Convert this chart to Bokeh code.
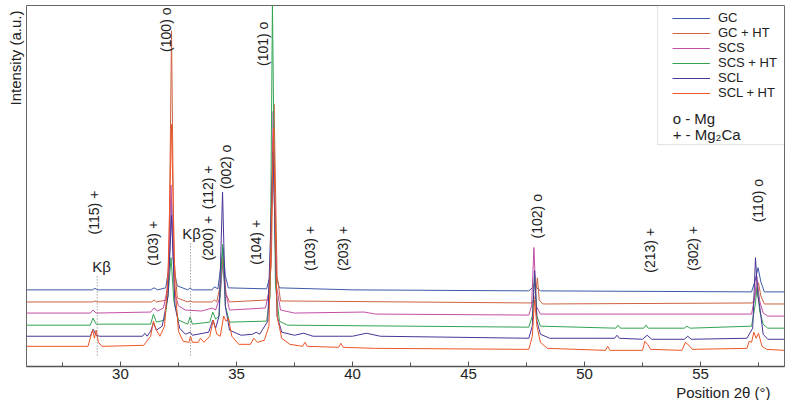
from math import pi
from bokeh.plotting import figure
from bokeh.models import (Range1d, SingleIntervalTicker, Title, Legend, LegendItem,
                          BoxAnnotation, Label)
from bokeh.core.properties import value
from bokeh.embed import file_html
from bokeh.resources import INLINE

FONT = "Liberation Sans"

series_names = ["GC", "GC + HT", "SCS", "SCS + HT", "SCL", "SCL + HT"]
series_colors = ["#3d5aa8", "#cf6240", "#c24fa6", "#33a352", "#4a3597", "#ef5526"]

# (2theta, intensity a.u.), traces already offset
pattern_gc = [(25.95, 76), (28.8, 76), (28.9, 77.5), (29.0, 76), (31.3, 76), (31.45, 78), (31.6, 76),
              (31.95, 78), (32.1, 100), (32.2, 165), (32.3, 95), (32.45, 80), (32.9, 76), (33.0, 78),
              (33.1, 76), (33.95, 76), (34.05, 79), (34.2, 77), (34.33, 100), (34.42, 118), (34.52, 90),
              (34.65, 78), (36.3, 77), (36.45, 90), (36.58, 223), (36.7, 90), (36.85, 78), (40.0, 76),
              (47.6, 75), (47.75, 78), (47.85, 82), (47.95, 78), (48.1, 75), (57.2, 74), (57.35, 85),
              (57.48, 98), (57.6, 84), (57.75, 74), (58.62, 74)]
pattern_gc_ht = [(25.95, 64), (28.8, 64), (28.9, 65), (29.0, 64), (31.35, 64), (31.45, 66), (31.55, 64),
                 (32.0, 66), (32.1, 120), (32.2, 333), (32.3, 110), (32.45, 68), (32.9, 64), (33.0, 65),
                 (33.1, 64), (33.95, 64), (34.05, 66), (34.15, 64), (34.3, 80), (34.42, 108), (34.55, 72),
                 (34.7, 64), (36.35, 66), (36.5, 100), (36.62, 260), (36.75, 90), (36.9, 65), (47.75, 63),
                 (47.88, 70), (47.97, 88), (48.05, 66), (48.2, 62), (57.25, 63), (57.4, 75), (57.5, 83),
                 (57.6, 70), (57.75, 62), (58.62, 62)]
pattern_scs = [(25.95, 53), (28.7, 53), (28.82, 56), (28.95, 53), (31.3, 54), (31.45, 58), (31.6, 55),
               (31.85, 58), (32.05, 80), (32.18, 180), (32.32, 75), (32.5, 60), (32.8, 56), (33.5, 55),
               (33.95, 58), (34.1, 56), (34.3, 70), (34.4, 101), (34.52, 75), (34.7, 56), (36.25, 58),
               (36.45, 80), (36.58, 253), (36.72, 80), (36.9, 56), (37.5, 53), (40.5, 54), (41.0, 52),
               (47.6, 51), (47.72, 60), (47.82, 118), (47.92, 60), (48.1, 52), (57.2, 52), (57.35, 70),
               (57.42, 90), (57.55, 65), (57.7, 53), (57.9, 50), (58.62, 50)]
pattern_scs_ht = [(25.95, 41), (28.7, 41), (28.82, 48), (28.95, 42), (31.3, 42), (31.42, 52), (31.55, 44),
                  (31.9, 46), (32.05, 70), (32.18, 108), (32.3, 65), (32.5, 46), (32.9, 42), (33.0, 49),
                  (33.1, 42), (33.85, 44), (33.98, 54), (34.1, 47), (34.25, 50), (34.4, 121), (34.52, 60),
                  (34.7, 44), (36.3, 45), (36.45, 70), (36.55, 360), (36.68, 80), (36.85, 45), (37.2, 41),
                  (47.6, 39), (47.75, 50), (47.85, 91), (47.95, 50), (48.1, 40), (51.35, 38), (51.45, 41),
                  (51.55, 38), (52.55, 38), (52.65, 41), (52.75, 38), (54.3, 38), (54.42, 40), (54.55, 38),
                  (57.2, 40), (57.35, 60), (57.45, 80), (57.55, 55), (57.7, 42), (57.9, 38), (58.62, 38)]
pattern_scl = [(25.95, 30), (28.7, 30), (28.82, 37), (28.95, 31), (29.1, 30), (30.95, 30), (31.05, 33),
               (31.15, 30), (31.3, 35), (31.42, 43), (31.55, 36), (31.8, 40), (32.05, 70), (32.2, 150),
               (32.35, 60), (32.55, 38), (32.8, 32), (33.0, 34), (33.1, 31), (33.8, 34), (33.98, 46),
               (34.1, 38), (34.25, 50), (34.4, 173), (34.52, 60), (34.7, 36), (35.2, 31), (35.7, 32),
               (35.85, 34), (36.0, 32), (36.35, 45), (36.58, 213), (36.75, 50), (36.95, 34), (37.5, 31),
               (37.9, 33), (38.3, 30), (40.0, 30), (40.6, 33), (41.2, 30), (47.6, 28), (47.75, 40),
               (47.85, 95), (47.95, 45), (48.1, 32), (48.5, 28), (51.3, 28), (51.4, 31), (51.5, 28),
               (52.5, 27), (52.7, 31), (52.9, 27), (54.3, 27), (54.45, 30), (54.6, 27), (57.0, 28),
               (57.25, 38), (57.37, 108), (57.47, 70), (57.55, 60), (57.7, 32), (57.9, 27), (58.62, 27)]
pattern_scl_ht = [(25.95, 20), (28.6, 20), (28.72, 30), (28.8, 36), (28.88, 28), (28.95, 36), (29.05, 24),
                  (29.2, 20), (31.0, 21), (31.3, 30), (31.42, 45), (31.55, 36), (31.7, 30), (31.9, 40),
                  (32.05, 90), (32.2, 240), (32.35, 80), (32.5, 35), (32.7, 25), (32.95, 24), (33.02, 30),
                  (33.1, 24), (33.35, 24), (33.45, 28), (33.6, 24), (33.85, 30), (34.0, 46), (34.15, 32),
                  (34.3, 30), (34.45, 50), (34.55, 45), (34.65, 48), (34.8, 30), (35.1, 22), (35.6, 22),
                  (35.75, 28), (35.9, 24), (36.2, 26), (36.4, 40), (36.6, 236), (36.75, 50), (36.95, 28),
                  (37.3, 22), (37.85, 20), (37.95, 24), (38.05, 20), (39.4, 19), (39.5, 23), (39.6, 19),
                  (41.0, 18), (47.6, 17), (47.75, 30), (47.85, 66), (47.95, 40), (48.1, 24), (48.4, 18),
                  (50.9, 16), (51.0, 20), (51.1, 16), (52.5, 16), (52.6, 25), (52.72, 22), (52.85, 17),
                  (54.2, 16), (54.35, 24), (54.5, 21), (54.65, 17), (57.0, 18), (57.1, 25), (57.2, 24),
                  (57.3, 34), (57.4, 28), (57.5, 33), (57.65, 20), (57.85, 17), (58.62, 16)]
patterns = [pattern_gc, pattern_gc_ht, pattern_scs, pattern_scs_ht, pattern_scl, pattern_scl_ht]

# reflection annotations: text, 2theta, intensity at text start
refl_text = ["(115)  +", "(103)  +", "(100)  o", "(200)  +", "(112)  +", "(002)  o", "(104)  +",
             "(101)  o", "(103)  +", "(203)  +", "(102)  o", "(213)  +", "(302)  +", "(110)  o"]
refl_x = [28.84, 31.42, 31.98, 33.79, 33.79, 34.57, 35.82, 36.16, 38.15, 39.57, 47.97, 52.84, 54.66, 57.46]
refl_y = [131, 100, 312, 105, 156, 176, 101, 298, 95, 95, 127, 93, 95, 143]

kb_text = ["K\u03b2", "K\u03b2"]
kb_x = [29.18, 33.06]
kb_y = [99, 132]
kb_line_x = [29.0, 33.02]
kb_line_top = [91, 123]
kb_line_bottom = [11, 11]

legend_notes = ["o - Mg", "+ - Mg\u2082Ca"]

p = figure(width=785, height=400, x_range=Range1d(25.95, 58.62), y_range=Range1d(0, 358),
           output_backend="svg", toolbar_location=None, title=None,
           min_border_left=26, min_border_right=1, min_border_top=5, min_border_bottom=0)
p.background_fill_color = "white"
p.border_fill_color = "white"
p.xgrid.visible = False
p.ygrid.visible = False
p.outline_line_color = "#666666"
p.outline_line_width = 1

p.xaxis.ticker = SingleIntervalTicker(interval=5, num_minor_ticks=2)
p.xaxis.major_tick_in = 5
p.xaxis.major_tick_out = 0
p.xaxis.minor_tick_in = 4
p.xaxis.minor_tick_out = 0
p.xaxis.axis_line_color = "#555555"
p.xaxis.axis_line_width = 1.5
p.xaxis.major_tick_line_color = "#555555"
p.xaxis.minor_tick_line_color = "#555555"
p.xaxis.major_label_text_font = FONT
p.xaxis.major_label_text_font_size = "15px"
p.xaxis.major_label_text_color = "#222222"
p.xaxis.major_label_standoff = 2
p.yaxis.visible = False

p.add_layout(Title(text="Intensity (a.u.)", align="right", offset=5, text_font=FONT, text_font_size="15px",
                   text_font_style="normal", text_color="#222222", standoff=6), "left")
p.add_layout(Title(text="Position 2\u03b8 (\u00b0)", align="right", offset=14, text_font=FONT,
                   text_font_size="15px", text_font_style="normal", text_color="#222222",
                   standoff=0), "below")

items = []
for name, color, pat in zip(series_names, series_colors, patterns):
    xs = [a for a, b in pat]
    ys = [b for a, b in pat]
    r = p.line(xs, ys, line_color=color, line_width=1)
    items.append(LegendItem(label=name, renderers=[r]))

p.segment(x0=kb_line_x, y0=kb_line_bottom, x1=kb_line_x, y1=kb_line_top,
          line_color="#777777", line_width=1, line_dash="1 2")

p.text(x=refl_x, y=refl_y, text=refl_text, angle=pi / 2, text_align="left", text_baseline="middle",
       text_font=value(FONT), text_font_size="14px", text_color="#222222")
p.text(x=kb_x, y=kb_y, text=kb_text, text_align="center", text_baseline="middle",
       text_font=value(FONT), text_font_size="15px", text_color="#222222")

p.add_layout(BoxAnnotation(left=53.15, bottom=220, fill_alpha=0, line_color="#999999", line_width=1))
legend = Legend(items=items, location=(643, 263), border_line_alpha=0, background_fill_alpha=0,
                glyph_width=38, glyph_height=14, label_height=14, spacing=0, padding=3, margin=0,
                label_standoff=8, label_text_font=FONT, label_text_font_size="13px",
                label_text_color="#222222")
p.add_layout(legend)
for i, note in enumerate(legend_notes):
    p.add_layout(Label(x=53.8, y=246 - 16 * i, text=note, text_baseline="middle", text_font=FONT,
                       text_font_size="15px", text_color="#222222"))

open("out.html", "w").write(file_html(p, INLINE))
